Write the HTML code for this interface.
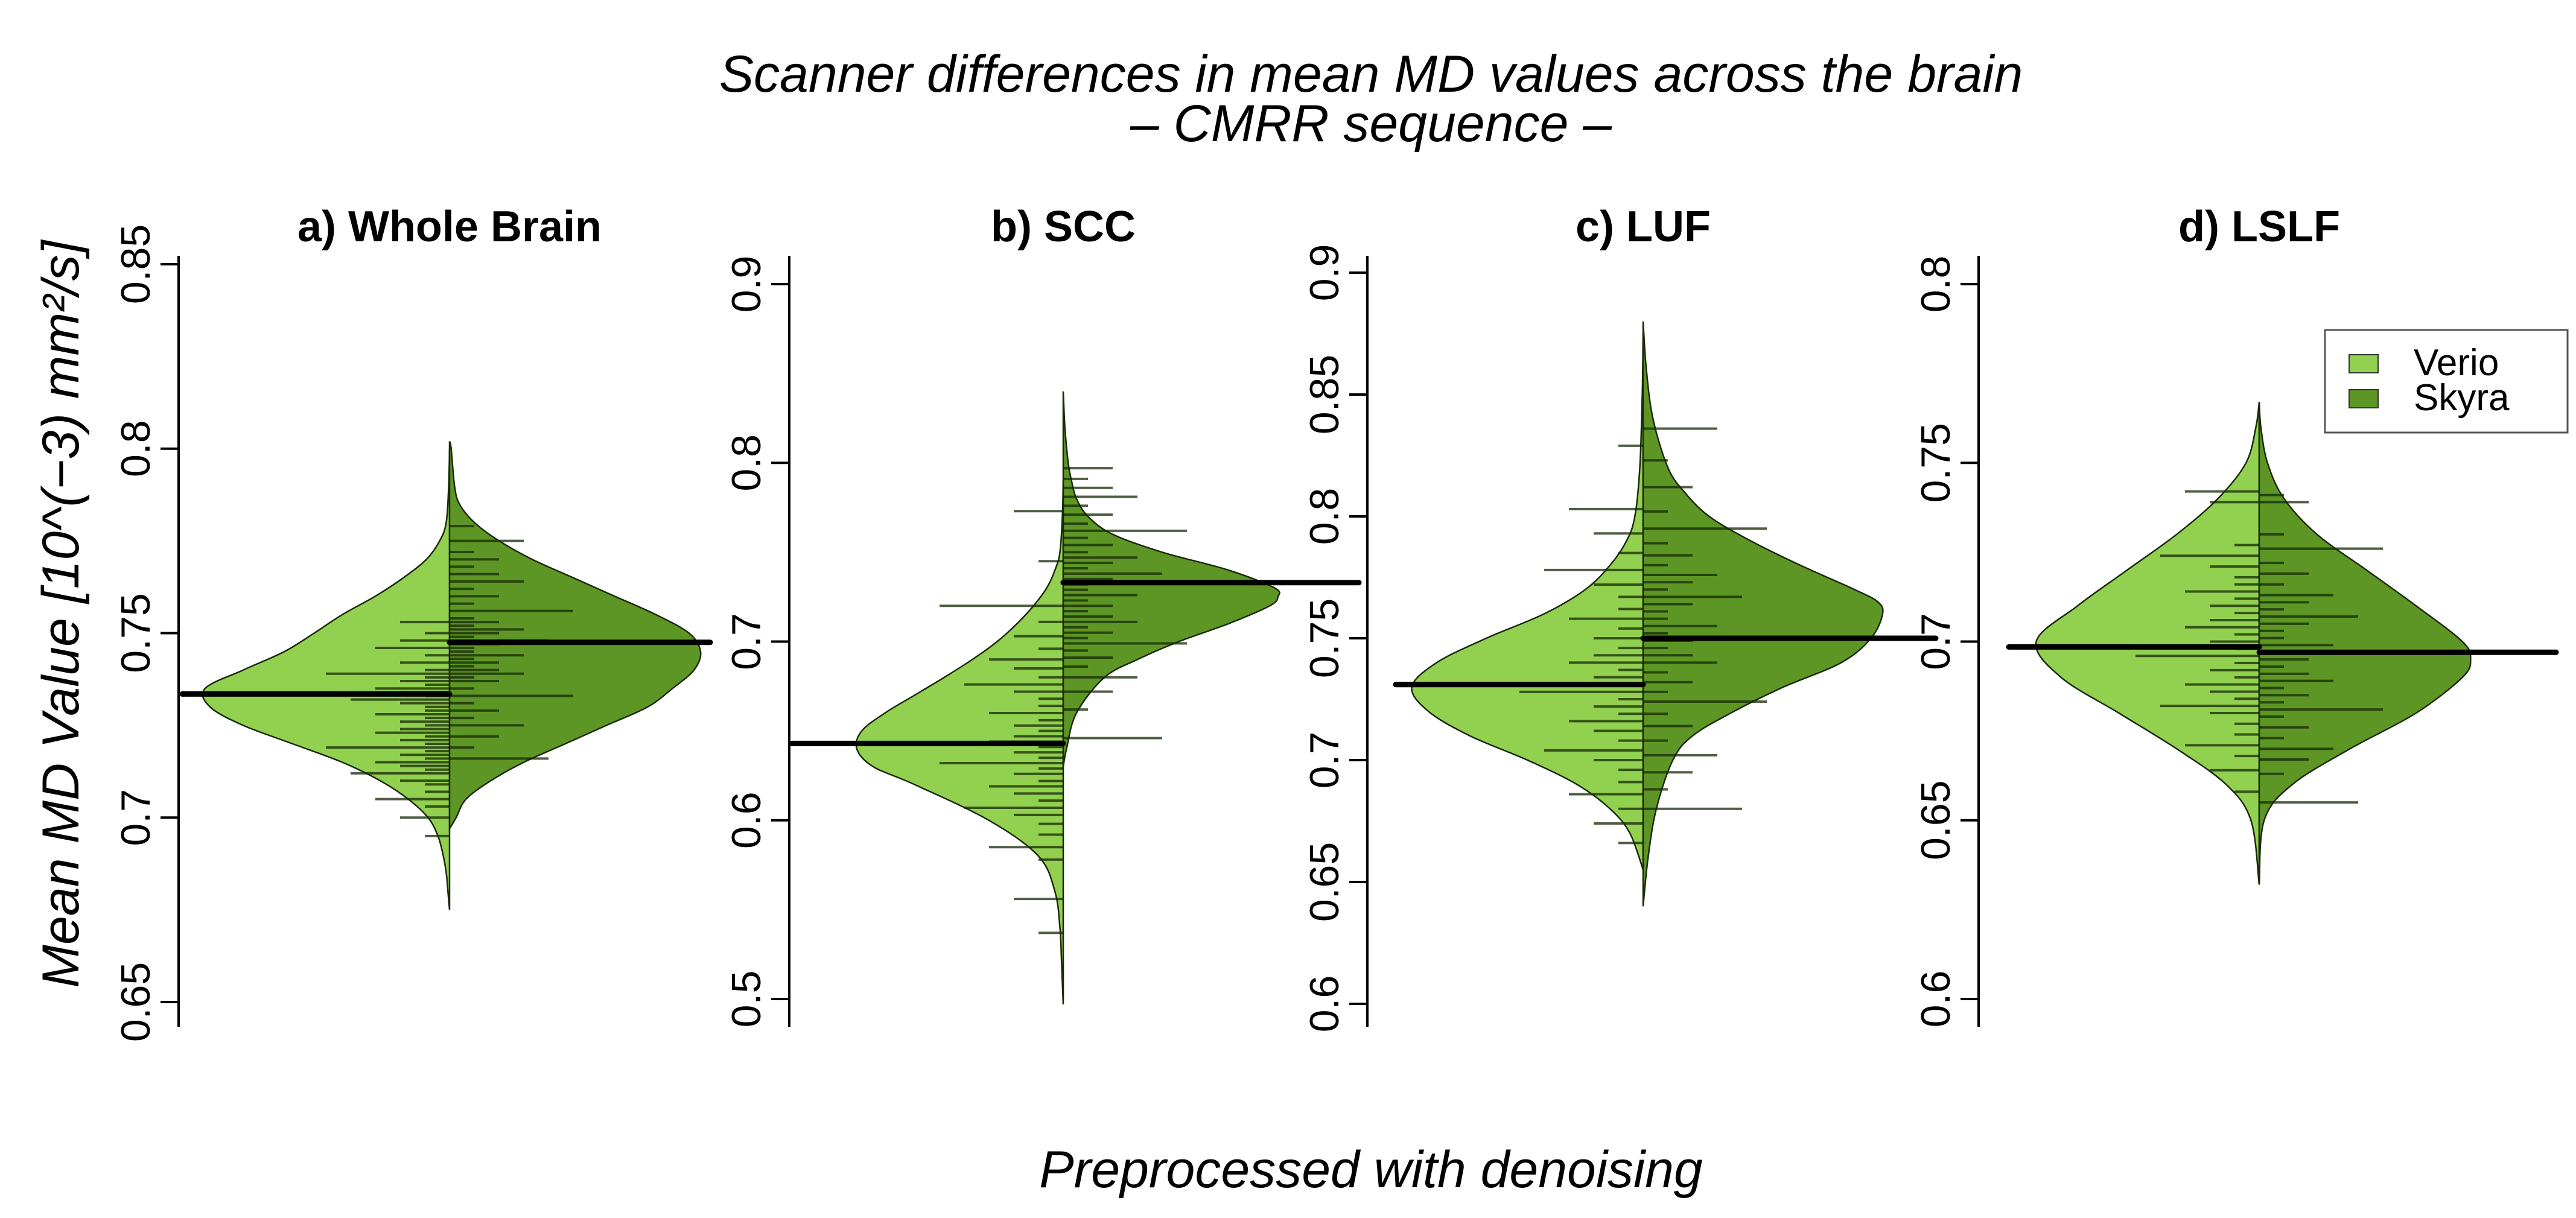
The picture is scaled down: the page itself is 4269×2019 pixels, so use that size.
<!DOCTYPE html>
<html><head><meta charset="utf-8">
<style>
html,body{margin:0;padding:0;background:#fff;}
svg{display:block;}
text{font-family:"Liberation Sans",Arial,sans-serif;}
</style></head>
<body>
<svg id="chart" width="4269" height="2019" viewBox="0 0 4269 2019" xmlns="http://www.w3.org/2000/svg">
<rect width="4269" height="2019" fill="#fff"/>
<text x="2272" y="152" font-size="86" font-style="italic" text-anchor="middle" fill="#000">Scanner differences in mean MD values across the brain</text>
<text x="2272" y="234" font-size="86" font-style="italic" text-anchor="middle" fill="#000">– CMRR sequence –</text>
<text x="2272" y="1968" font-size="86" font-style="italic" text-anchor="middle" fill="#000">Preprocessed with denoising</text>
<text transform="translate(130,1018) rotate(-90)" font-size="86" font-style="italic" text-anchor="middle" fill="#000">Mean MD Value [10^(−3) mm²/s]</text>
<g id="panels"></g>
<g>
<rect x="3853" y="547" width="402" height="170" fill="#fff" stroke="#555" stroke-width="3"/>
<rect x="3893" y="588" width="48" height="30" fill="#92d050" stroke="#333" stroke-width="2"/>
<text x="4000" y="622" font-size="62" fill="#000">Verio</text>
<rect x="3893" y="646" width="48" height="30" fill="#5e9625" stroke="#333" stroke-width="2"/>
<text x="4000" y="680" font-size="62" fill="#000">Skyra</text>
</g>
</svg>
<script>
// ---------- data ----------
const panelTitles = ["a) Whole Brain","b) SCC","c) LUF","d) LSLF"];
const tickLabelsA = ["0.65","0.7","0.75","0.8","0.85"];
const tickLabelsB = ["0.5","0.6","0.7","0.8","0.9"];
const tickLabelsC = ["0.6","0.65","0.7","0.75","0.8","0.85","0.9"];
const tickLabelsD = ["0.6","0.65","0.7","0.75","0.8"];
const meansVerio = [0.7335, 0.643, 0.731, 0.6985];
const meansSkyra = [0.7475, 0.733, 0.750, 0.697];

const densGridA_V = [0.675,0.68,0.685,0.69,0.695,0.70,0.705,0.71,0.715,0.72,0.725,0.73,0.735,0.74,0.745,0.75,0.755,0.76,0.765,0.77,0.775,0.78,0.79,0.80];
const densA_V     = [0,1,2,4,7,13,25,42,65,95,125,145,148,125,100,82,65,45,28,14,6,2,0.5,0];
const densGridA_S = [0.697,0.70,0.705,0.71,0.715,0.72,0.725,0.73,0.735,0.74,0.745,0.75,0.755,0.76,0.765,0.77,0.775,0.78,0.785,0.79,0.80,0.802];
const densA_S     = [0,4,10,25,45,70,95,120,135,148,152,145,125,100,75,50,30,15,6,3,1,0];
const densGridB_V = [0.497,0.52,0.54,0.56,0.58,0.60,0.62,0.63,0.64,0.65,0.66,0.67,0.68,0.69,0.70,0.71,0.72,0.73,0.74,0.75,0.77,0.79];
const densB_V     = [0,1,2,5,15,45,90,115,125,122,108,90,72,55,40,28,18,10,5,2,0.5,0];
const densGridB_S = [0.63,0.64,0.66,0.68,0.69,0.70,0.71,0.72,0.725,0.73,0.74,0.75,0.76,0.77,0.78,0.79,0.80,0.82,0.84];
const densB_S     = [0,2,8,25,45,70,100,125,130,128,100,60,30,15,8,5,3,1,0];
const densGridC_V = [0.655,0.67,0.68,0.69,0.70,0.71,0.72,0.73,0.74,0.75,0.76,0.77,0.78,0.79,0.80,0.82,0.85,0.875];
const densC_V     = [0,8,20,40,70,105,130,140,125,95,60,35,20,10,5,2,0.5,0];
const densGridC_S = [0.64,0.66,0.68,0.70,0.71,0.72,0.73,0.74,0.75,0.76,0.765,0.77,0.78,0.79,0.80,0.81,0.82,0.84,0.86,0.88];
const densC_S     = [0,3,8,18,30,55,85,120,138,145,142,128,95,65,40,25,15,6,2,0];
const densGridD_V = [0.632,0.65,0.66,0.67,0.68,0.69,0.70,0.71,0.72,0.73,0.74,0.75,0.76,0.767];
const densD_V     = [0,5,20,50,85,120,135,110,80,50,25,8,2,0];
const densGridD_S = [0.632,0.65,0.66,0.67,0.68,0.69,0.695,0.70,0.71,0.72,0.73,0.74,0.75,0.76,0.767];
const densD_S     = [0,3,20,55,95,123,128,123,95,65,35,15,5,1,0];

const obsA_V = [0.695,0.700,0.703,0.705,0.707,0.709,0.710,0.712,0.713,0.714,0.715,0.716,0.717,0.718,0.719,0.720,0.721,0.722,0.723,0.724,0.725,0.726,0.727,0.728,0.729,0.730,0.731,0.732,0.733,0.734,0.735,0.736,0.737,0.738,0.739,0.740,0.742,0.744,0.746,0.748,0.750,0.753];
const obsA_S = [0.716,0.719,0.722,0.725,0.727,0.729,0.731,0.733,0.735,0.737,0.738,0.739,0.740,0.741,0.742,0.743,0.744,0.745,0.746,0.747,0.748,0.749,0.750,0.751,0.752,0.753,0.754,0.756,0.758,0.760,0.762,0.764,0.766,0.768,0.770,0.772,0.775,0.779];
const obsB_V = [0.537,0.556,0.578,0.585,0.592,0.598,0.603,0.607,0.611,0.615,0.619,0.622,0.626,0.629,0.632,0.635,0.638,0.641,0.644,0.647,0.650,0.653,0.656,0.660,0.664,0.668,0.672,0.676,0.680,0.685,0.690,0.696,0.703,0.711,0.720,0.745,0.773];
const obsB_S = [0.646,0.662,0.672,0.680,0.686,0.691,0.695,0.699,0.702,0.705,0.708,0.711,0.714,0.717,0.720,0.723,0.726,0.729,0.732,0.735,0.738,0.741,0.744,0.747,0.750,0.754,0.758,0.762,0.766,0.771,0.776,0.781,0.786,0.791,0.797];
const obsC_V = [0.666,0.674,0.680,0.686,0.691,0.696,0.700,0.704,0.708,0.712,0.716,0.719,0.722,0.725,0.728,0.731,0.734,0.737,0.740,0.743,0.746,0.750,0.754,0.758,0.762,0.767,0.772,0.778,0.785,0.793,0.803,0.829];
const obsC_S = [0.680,0.688,0.695,0.702,0.708,0.714,0.719,0.724,0.728,0.732,0.736,0.740,0.743,0.746,0.749,0.752,0.755,0.758,0.761,0.764,0.767,0.770,0.773,0.776,0.780,0.784,0.789,0.795,0.802,0.812,0.823,0.836];
const obsD_V = [0.658,0.664,0.668,0.671,0.674,0.677,0.680,0.682,0.684,0.686,0.688,0.690,0.692,0.694,0.696,0.698,0.700,0.702,0.704,0.706,0.708,0.710,0.712,0.714,0.716,0.718,0.721,0.724,0.727,0.739,0.742];
const obsD_S = [0.655,0.663,0.667,0.670,0.673,0.676,0.679,0.681,0.683,0.685,0.687,0.689,0.691,0.693,0.695,0.697,0.699,0.701,0.703,0.705,0.707,0.709,0.711,0.713,0.716,0.719,0.722,0.726,0.730,0.739,0.741];

// ---------- layout (presentation) ----------
const panels = [
 {title:panelTitles[0], ticks:tickLabelsA, axisX:296, center:745, t0:0.65, y0:1661, t1:0.85, y1:438, mL:443, mR:432,
  gV:densGridA_V, dV:densA_V, gS:densGridA_S, dS:densA_S, oV:obsA_V, oS:obsA_S},
 {title:panelTitles[1], ticks:tickLabelsB, axisX:1308, center:1762, t0:0.5, y0:1656, t1:0.9, y1:471, mL:450, mR:490,
  gV:densGridB_V, dV:densB_V, gS:densGridB_S, dS:densB_S, oV:obsB_V, oS:obsB_S},
 {title:panelTitles[2], ticks:tickLabelsC, axisX:2266, center:2723, t0:0.6, y0:1664, t1:0.9, y1:452, mL:410, mR:485,
  gV:densGridC_V, dV:densC_V, gS:densGridC_S, dS:densC_S, oV:obsC_V, oS:obsC_S},
 {title:panelTitles[3], ticks:tickLabelsD, axisX:3279, center:3744, t0:0.6, y0:1656, t1:0.8, y1:471, mL:415, mR:492,
  gV:densGridD_V, dV:densD_V, gS:densGridD_S, dS:densD_S, oV:obsD_V, oS:obsD_S}
];
const lenPattern = [1,2,1,3,1,1,2,4,1,2,3,1,2,1,5,1,2,1,3,2];
const widthScale = 2.737;
const unit = 41;
const NS = "http://www.w3.org/2000/svg";
const root = document.getElementById("panels");

function mk(tag, attrs, parent){
  const e = document.createElementNS(NS, tag);
  for (const k in attrs) e.setAttribute(k, attrs[k]);
  parent.appendChild(e);
  return e;
}
function smoothPath(pts){
  let d = "M"+pts[0][0].toFixed(1)+","+pts[0][1].toFixed(1);
  for (let i=0;i<pts.length-1;i++){
    const p0=pts[Math.max(0,i-1)], p1=pts[i], p2=pts[i+1], p3=pts[Math.min(pts.length-1,i+2)];
    const c1x=p1[0]+(p2[0]-p0[0])/6, c1y=p1[1]+(p2[1]-p0[1])/6;
    const c2x=p2[0]-(p3[0]-p1[0])/6, c2y=p2[1]-(p3[1]-p1[1])/6;
    d += " C"+c1x.toFixed(1)+","+c1y.toFixed(1)+" "+c2x.toFixed(1)+","+c2y.toFixed(1)+" "+p2[0].toFixed(1)+","+p2[1].toFixed(1);
  }
  return d;
}

panels.forEach((p, pi) => {
  const yScale = v => p.y0 + (v - p.t0) * (p.y1 - p.y0) / (p.t1 - p.t0);
  const g = mk("g", {}, root);
  
  

  const title = mk("text", {x:p.center, y:400, "font-size":72, "font-weight":"bold", "text-anchor":"middle", fill:"#000"}, g);
  title.textContent = p.title;
  
  

  const axis = mk("line", {x1:p.axisX, y1:424, x2:p.axisX, y2:1702, stroke:"#000", "stroke-width":4}, g);
  
  
  p.ticks.forEach(lbl => {
    const y = yScale(parseFloat(lbl));
    const tk = mk("line", {x1:p.axisX-30, y1:y, x2:p.axisX, y2:y, stroke:"#000", "stroke-width":4}, g);
    
    
    const tl = mk("text", {transform:"translate("+(p.axisX-48)+","+y+") rotate(-90)", "font-size":68, "text-anchor":"middle", fill:"#000"}, g);
    tl.textContent = lbl;
    
    
  });

  const ptsL = p.gV.map((v,i) => [p.center - p.dV[i]*widthScale, yScale(v)]);
  const dL = smoothPath(ptsL) + " L"+p.center+","+yScale(p.gV[p.gV.length-1])+" L"+p.center+","+yScale(p.gV[0])+" Z";
  const bl = mk("path", {d:dL, fill:"#92d050", stroke:"#1a2a0a", "stroke-width":2.5}, g);
  
  
  const ptsR = p.gS.map((v,i) => [p.center + p.dS[i]*widthScale, yScale(v)]);
  const dR = smoothPath(ptsR) + " L"+p.center+","+yScale(p.gS[p.gS.length-1])+" L"+p.center+","+yScale(p.gS[0])+" Z";
  const br = mk("path", {d:dR, fill:"#5e9625", stroke:"#1a2a0a", "stroke-width":2.5}, g);
  
  

  p.oV.forEach((v,i) => {
    const y = yScale(v);
    const len = unit*lenPattern[i % lenPattern.length];
    const ln = mk("line", {x1:p.center-len, y1:y, x2:p.center, y2:y, stroke:"rgba(20,40,5,0.75)", "stroke-width":4}, g);
    
    
  });
  p.oS.forEach((v,i) => {
    const y = yScale(v);
    const len = unit*lenPattern[(i+7) % lenPattern.length];
    const ln = mk("line", {x1:p.center, y1:y, x2:p.center+len, y2:y, stroke:"rgba(20,40,5,0.75)", "stroke-width":4}, g);
    
    
  });

  const yv = yScale(meansVerio[pi]);
  const mv = mk("line", {x1:p.center-p.mL, y1:yv, x2:p.center, y2:yv, stroke:"#000", "stroke-width":9, "stroke-linecap":"round"}, g);
  
  
  const ys = yScale(meansSkyra[pi]);
  const ms = mk("line", {x1:p.center, y1:ys, x2:p.center+p.mR, y2:ys, stroke:"#000", "stroke-width":9, "stroke-linecap":"round"}, g);
  
  
});
</script>
</body></html>
